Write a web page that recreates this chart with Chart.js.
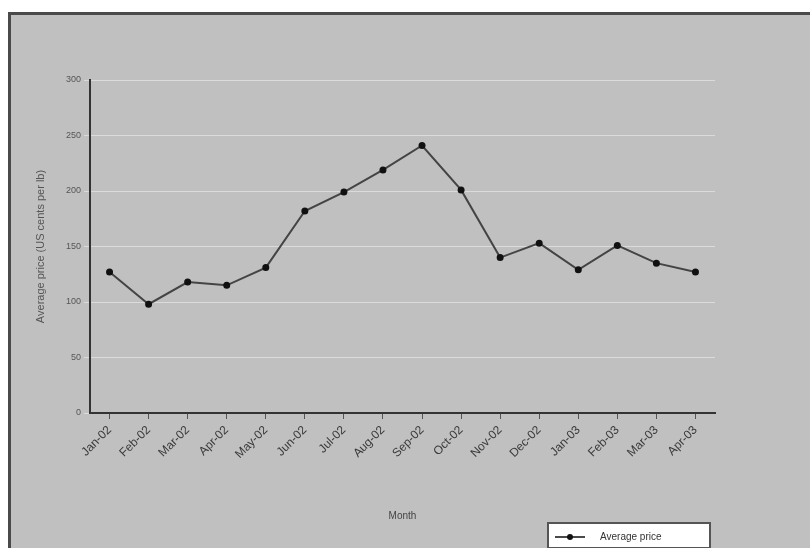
<!DOCTYPE html>
<html>
<head>
<meta charset="utf-8">
<script src="https://cdn.jsdelivr.net/npm/chart.js@4.4.1/dist/chart.umd.min.js"></script>
<style>
  html, body { margin: 0; padding: 0; background: #fff; }
  #wrap { position: relative; width: 810px; height: 548px; }
</style>
</head>
<body>
<div id="wrap"><canvas id="priceChart" width="810" height="548"></canvas></div>
<script>
// values (estimates, image is very blurry)
const periods = ["Jan-02", "Feb-02", "Mar-02", "Apr-02", "May-02", "Jun-02", "Jul-02", "Aug-02",
                 "Sep-02", "Oct-02", "Nov-02", "Dec-02", "Jan-03", "Feb-03", "Mar-03", "Apr-03"];
const avgPrice = [127, 98, 118, 115, 131, 182, 199, 219, 241, 201, 140, 153, 129, 151, 135, 127];
const yTicks = [0, 50, 100, 150, 200, 250, 300];

const frame = {
  id: "frame",
  beforeDraw(chart) {
    const ctx = chart.ctx;
    ctx.save();
    ctx.fillStyle = "#ffffff";
    ctx.fillRect(0, 0, 810, 548);
    ctx.fillStyle = "#c0c0c0";
    ctx.fillRect(8, 12, 802, 536);
    ctx.fillStyle = "#4a4a4a";
    ctx.fillRect(8, 12, 802, 3);
    ctx.fillRect(8, 12, 3, 536);
    ctx.restore();
  },
  afterDraw(chart) {
    // legend box bottom right
    const ctx = chart.ctx;
    ctx.save();
    ctx.fillStyle = "#ffffff";
    ctx.fillRect(548, 523, 162, 25);
    ctx.strokeStyle = "#555";
    ctx.lineWidth = 2;
    ctx.strokeRect(548, 523, 162, 25);
    ctx.strokeStyle = "#4a4a4a";
    ctx.beginPath();
    ctx.moveTo(555, 537);
    ctx.lineTo(585, 537);
    ctx.stroke();
    ctx.fillStyle = "#111";
    ctx.beginPath();
    ctx.arc(570, 537, 3, 0, Math.PI * 2);
    ctx.fill();
    ctx.fillStyle = "#333";
    ctx.font = "10px Arial, 'Liberation Sans', sans-serif";
    ctx.textBaseline = "middle";
    ctx.fillText("Average price", 600, 537);
    ctx.restore();
  }
};

new Chart(document.getElementById("priceChart"), {
  type: "line",
  data: {
    labels: periods,
    datasets: [{
      label: "Average price",
      data: avgPrice,
      borderColor: "#444",
      borderWidth: 2,
      pointRadius: 2.5,
      pointBackgroundColor: "#111",
      pointBorderColor: "#111",
      tension: 0
    }]
  },
  options: {
    responsive: false,
    animation: false,
    layout: { padding: { left: 32, top: 80, right: 95, bottom: 22 } },
    plugins: { legend: { display: false }, tooltip: { enabled: false } },
    scales: {
      x: {
        offset: true,
        afterFit(s) { s.height = 113; },
        grid: { display: true, drawOnChartArea: false, color: "#555", tickLength: 6 },
        border: { color: "#333", width: 2 },
        ticks: {
          color: "#3a3a3a",
          padding: 4,
          font: { family: "Arial, 'Liberation Sans', sans-serif", size: 12 },
          maxRotation: 45, minRotation: 45, autoSkip: false
        },
        title: {
          display: true, text: "Month", color: "#444",
          font: { family: "Arial, 'Liberation Sans', sans-serif", size: 10 }
        }
      },
      y: {
        min: 0, max: 300,
        afterFit(s) { s.width = 58; },
        afterBuildTicks(s) { s.ticks = yTicks.map(v => ({ value: v })); },
        grid: { color: "rgba(225,225,225,0.8)", tickLength: 6 },
        border: { color: "#333", width: 2 },
        ticks: {
          color: "#555",
          font: { family: "Arial, 'Liberation Sans', sans-serif", size: 9 }
        },
        title: {
          display: true, text: "Average price (US cents per lb)", color: "#555",
          padding: { top: 2, bottom: 2 },
          font: { family: "Arial, 'Liberation Sans', sans-serif", size: 11 }
        }
      }
    }
  },
  plugins: [frame]
});
</script>
</body>
</html>
